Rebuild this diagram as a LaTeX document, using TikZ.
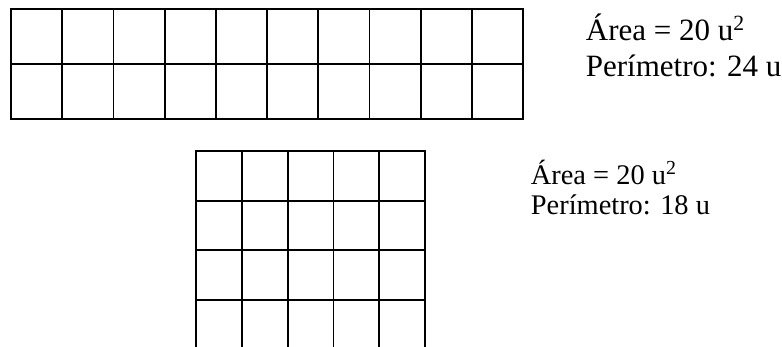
\documentclass[tikz,border=0pt]{standalone}
\usepackage{fontspec}
\setmainfont{Liberation Serif}
\begin{document}
\begin{tikzpicture}[x=0.5pt,y=-0.5pt,line width=0.9pt,line cap=rect,
  datosgrande/.style={anchor=base west,inner sep=0pt,font=\fontsize{15.5}{18}\selectfont},
  datoschico/.style={anchor=base west,inner sep=0pt,font=\fontsize{14.2}{17}\selectfont}]
          \useasboundingbox (0,0) rectangle (782,347);
          \foreach \i in {0,...,10} \draw (11+51.2*\i,9) -- (11+51.2*\i,119);
          \foreach \j in {0,1,2} \draw (11,9+55*\j) -- (523,9+55*\j);
          \begin{scope}
            \clip (0,0) rectangle (782,347);
            \foreach \i in {0,...,5} \draw (196+45.8*\i,151) -- (196+45.8*\i,352);
            \foreach \j in {0,...,3} \draw (196,151+49.7*\j) -- (425,151+49.7*\j);
          \end{scope}
          \node[datosgrande] (areaA) at (585,41) {Área = 20 u\textsuperscript{2}};
          \node[datosgrande] (perimA) at (585,77) {Perímetro: 24 u};
          \node[datoschico] (areaB) at (530,185) {Área = 20 u\textsuperscript{2}};
          \node[datoschico] (perimB) at (530,215) {Perímetro: 18 u};
        \end{tikzpicture}
\end{document}
